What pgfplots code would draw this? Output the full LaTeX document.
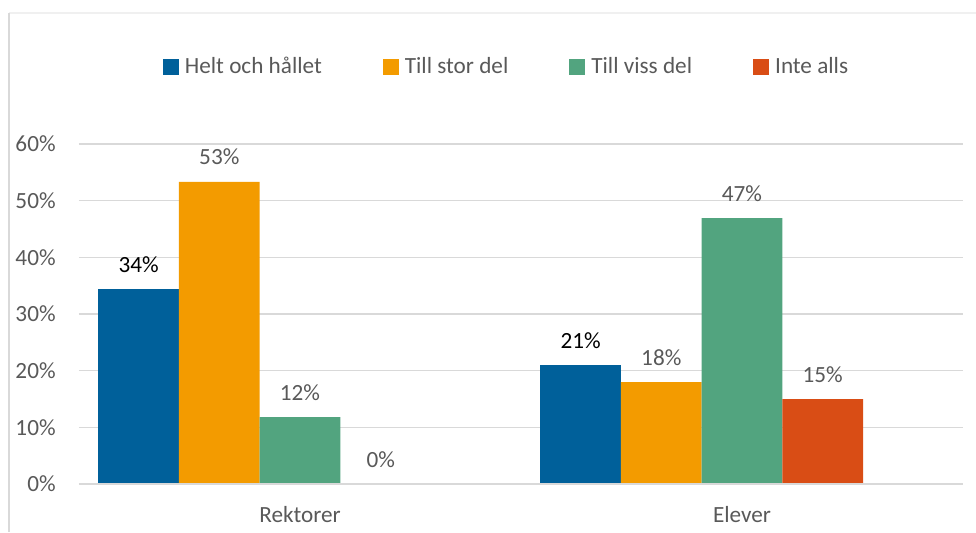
\documentclass[border=0pt]{standalone}
\usepackage{fontspec}
\setmainfont{Carlito}
\usepackage{pgfplots}
\pgfplotsset{compat=1.18}
\definecolor{cblue}{HTML}{00609A}
\definecolor{corange}{HTML}{F39B00}
\definecolor{cgreen}{HTML}{52A47F}
\definecolor{cred}{HTML}{D94D15}
\definecolor{textgray}{HTML}{595959}
\definecolor{gridgray}{HTML}{D9D9D9}
\definecolor{framegray}{HTML}{F0F0F0}

\newcommand{\chartfont}{\fontsize{11.6}{14}\selectfont}

\begin{document}
\begin{tikzpicture}[x=1pt,y=1pt]
  % Seitengroesse: 1 px im Original = 0.5 pt
  \path[use as bounding box] (0,0) rectangle (488,266);

  % Rahmen des Diagrammbereichs (nur links und oben sichtbar)
  \draw[framegray, line width=0.6pt] (4.5,259.5) -- (488,259.5);
  \draw[gridgray, line width=0.9pt] (4.5,0) -- (4.5,259.5);

  \begin{axis}[
      at={(39.5pt,24pt)},
      anchor=south west,
      scale only axis,
      width=442pt,
      height=170pt,
      xmin=-0.5, xmax=1.5,
      ymin=0, ymax=60,
      ybar=0pt,
      bar width=40.35pt,
      axis line style={draw=none},
      major tick length=0pt,
      tick style={draw=none},
      ymajorgrids,
      grid style={gridgray, line width=0.75pt},
      xtick={0,1},
      xticklabels={Rektorer,Elever},
      ytick={0,10,...,60},
      yticklabel={\pgfmathprintnumber{\tick}\%},
      /pgf/number format/assume math mode=true,
      tick label style={font=\chartfont, text=textgray},
      yticklabel style={anchor=east, inner sep=0pt, xshift=-11.5pt},
      xticklabel style={anchor=base, inner sep=0pt, yshift=-19pt},
      nodes near coords={\pgfmathprintnumber[fixed,precision=0]{\pgfplotspointmeta}\%},
      every node near coord/.append style={
        anchor=base, inner sep=0pt, yshift=8.5pt,
        font=\chartfont, text=textgray
      },
      legend columns=4,
      legend style={
        at={(0.4825,1.2265)},
        anchor=center,
        draw=none,
        fill=none,
        font=\chartfont,
        text=textgray,
        nodes={inner sep=0pt},
        /tikz/every odd column/.append style={column sep=3pt},
        /tikz/every even column/.append style={column sep=30.5pt}
      },
      legend image code/.code={
        \fill[#1] (0pt,-4pt) rectangle (8pt,4pt);
      },
      clip=false
    ]

    % Im Original gibt es eine fuenfte, leere Reihe: die Gruppen
    % stehen deshalb eine halbe Balkenbreite links der Kategorie.
    \addplot[fill=cblue, draw=none, bar shift=-80.7pt,
      every node near coord/.append style={text=black}]
      coordinates {(0,34.4) (1,21.0)};
    \addlegendentry{Helt och hållet}

    \addplot[fill=corange, draw=none, bar shift=-40.35pt]
      coordinates {(0,53.3) (1,18.0)};
    \addlegendentry{Till stor del}

    \addplot[fill=cgreen, draw=none, bar shift=0pt]
      coordinates {(0,11.8) (1,46.9)};
    \addlegendentry{Till viss del}

    \addplot[fill=cred, draw=none, bar shift=40.35pt]
      coordinates {(0,0) (1,15.0)};
    \addlegendentry{Inte alls}

    % Nulllinie ueber dem leeren Balken nachziehen
    \draw[gridgray, line width=0.75pt]
      (rel axis cs:0,0) -- (rel axis cs:1,0);

  \end{axis}
\end{tikzpicture}
\end{document}
